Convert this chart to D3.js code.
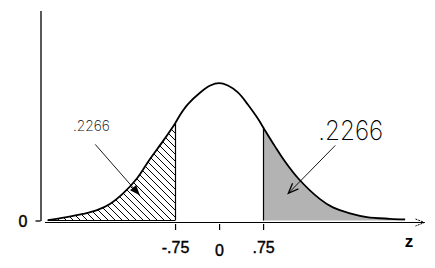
<!DOCTYPE html>
<html>
<head>
<meta charset="utf-8">
<script src="https://cdn.jsdelivr.net/npm/d3@7"></script>
<style>
  html, body { margin: 0; padding: 0; background: #fff; }
  svg { display: block; }
</style>
</head>
<body>
<svg id="chart" width="435" height="268"></svg>
<script>
// ---- data ----
const zValues = [-2.92, -2.62, -2.32, -2.08, -1.86, -1.64, -1.40, -1.18, -0.95, -0.75, -0.66, -0.53, -0.32, -0.15, 0,
                 0.15, 0.32, 0.49, 0.66, 0.75, 0.95, 1.12, 1.35, 1.72, 1.94, 2.23, 2.52, 2.91, 3.17];
const densityValues = [0.001, 0.009, 0.019, 0.030, 0.048, 0.078, 0.122, 0.178, 0.232, 0.282, 0.308, 0.338, 0.372, 0.392, 0.399,
                       0.392, 0.372, 0.337, 0.296, 0.271, 0.216, 0.172, 0.122, 0.062, 0.038, 0.021, 0.010, 0.005, 0.003];
const cutoffs = [-0.75, 0.75];
const tailAreas = [".2266", ".2266"];
const xTickValues = [-0.75, 0, 0.75];
const xTickLabels = ["-.75", "0", ".75"];
const yTickValues = [0];
const yTickLabels = ["0"];
const xAxisTitle = "z";

const points = zValues.map((z, i) => ({ z, d: densityValues[i] }));

const svg = d3.select("#chart");
const x = d3.scaleLinear().domain([-3, 3.5]).range([43, 424.5]);
const y = d3.scaleLinear().domain([0, 0.61]).range([220.5, 10.5]);

// hatch pattern
const defs = svg.append("defs");
const pat = defs.append("pattern").attr("id", "hatch")
  .attr("patternUnits", "userSpaceOnUse").attr("width", 7).attr("height", 7);
pat.append("path").attr("d", "M0,0 L7,7 M-1,6 L1,8 M6,-1 L8,1")
  .attr("stroke", "#000").attr("stroke-width", 1).attr("shape-rendering", "crispEdges");

defs.append("clipPath").attr("id", "clipLeft").append("rect")
  .attr("x", 0).attr("y", 0).attr("width", x(cutoffs[0])).attr("height", 268);
defs.append("clipPath").attr("id", "clipRight").append("rect")
  .attr("x", x(cutoffs[1])).attr("y", 0).attr("width", 435 - x(cutoffs[1])).attr("height", 268);

const curve = d3.curveCatmullRom.alpha(0.5);
const area = d3.area().x(p => x(p.z)).y0(y(0)).y1(p => y(p.d)).curve(curve);
const line = d3.line().x(p => x(p.z)).y(p => y(p.d)).curve(curve);

svg.append("path").datum(points).attr("d", area)
  .attr("fill", "url(#hatch)").attr("clip-path", "url(#clipLeft)");
svg.append("path").datum(points).attr("d", area)
  .attr("fill", "#b3b3b3").attr("clip-path", "url(#clipRight)");

// baseline of the shaded regions
svg.append("line")
  .attr("x1", x(zValues[0])).attr("x2", x(cutoffs[0]))
  .attr("y1", y(0)).attr("y2", y(0)).attr("stroke", "#000").attr("stroke-width", 1);

// cutoff verticals
cutoffs.forEach(c => {
  const p = points.find(q => q.z === c);
  svg.append("line")
    .attr("x1", Math.round(x(c)) + 0.5).attr("x2", Math.round(x(c)) + 0.5)
    .attr("y1", y(0)).attr("y2", y(p.d))
    .attr("stroke", "#000").attr("stroke-width", 1.2);
});

// the curve
svg.append("path").datum(points).attr("d", line)
  .attr("fill", "none").attr("stroke", "#000").attr("stroke-width", 1.8);

const labelFont = "'Liberation Sans', Arial, sans-serif";

// y axis
const yAxis = d3.axisLeft(y).tickValues(yTickValues).tickFormat((d, i) => yTickLabels[i])
  .tickSizeInner(5).tickSizeOuter(0).tickPadding(8);
const gy = svg.append("g").attr("transform", "translate(40.5,0)").call(yAxis);
gy.select(".domain").attr("stroke", "#000").attr("stroke-width", 1.3);
gy.selectAll(".tick line").attr("stroke", "#000").attr("stroke-width", 1.3);
gy.selectAll(".tick text").attr("font-family", labelFont)
  .attr("font-size", 16).attr("fill", "#000").attr("stroke", "#000").attr("stroke-width", 0.4)
  .attr("dy", "0.4em");

// x axis line with open arrow
const axisY = 222.5;
svg.append("line").attr("x1", x.range()[0] + 2).attr("x2", x.range()[1])
  .attr("y1", axisY).attr("y2", axisY).attr("stroke", "#000").attr("stroke-width", 1);
svg.append("path")
  .attr("d", `M${x.range()[1] - 9},${axisY - 3.5} L${x.range()[1]},${axisY} L${x.range()[1] - 9},${axisY + 3.5}`)
  .attr("fill", "none").attr("stroke", "#000").attr("stroke-width", 1).attr("stroke-dasharray", "2,1");

const xAxis = d3.axisBottom(x).tickValues(xTickValues).tickFormat((d, i) => xTickLabels[i])
  .tickSizeInner(6).tickSizeOuter(0).tickPadding(10);
const gx = svg.append("g").attr("transform", `translate(0,${axisY + 1.5})`).call(xAxis);
gx.select(".domain").remove();
gx.selectAll(".tick line").attr("stroke", "#000").attr("stroke-width", 1.2);
gx.selectAll(".tick text").attr("font-family", labelFont)
  .attr("font-size", 16).attr("fill", "#000").attr("stroke", "#000").attr("stroke-width", 0.4)
  .attr("dy", (d) => d === 0 ? "1.0em" : "0.8em");

svg.append("text").attr("x", 409).attr("y", 247).attr("text-anchor", "middle")
  .attr("font-family", labelFont).attr("font-size", 17)
  .attr("font-weight", "bold").text(xAxisTitle);

// annotations (positions in data units)
const thinFont = "Inter, 'DejaVu Sans', sans-serif";
svg.append("text").attr("x", x(-2.49)).attr("y", y(0.259))
  .attr("font-family", thinFont).attr("font-weight", 200).attr("font-size", 15)
  .attr("textLength", 37).attr("lengthAdjust", "spacingAndGlyphs").text(tailAreas[0]);
svg.append("text").attr("x", x(1.69)).attr("y", y(0.233))
  .attr("font-family", thinFont).attr("font-weight", 200).attr("font-size", 27)
  .attr("textLength", 65).attr("lengthAdjust", "spacingAndGlyphs").text(tailAreas[1]);

function arrow(z1, d1, z2, d2, filled) {
  const x1 = x(z1), y1 = y(d1), x2 = x(z2), y2 = y(d2);
  svg.append("line").attr("x1", x1).attr("y1", y1).attr("x2", x2).attr("y2", y2)
    .attr("stroke", "#000").attr("stroke-width", 0.9);
  const ang = Math.atan2(y2 - y1, x2 - x1);
  const L = 11, W = 0.38;
  const ax = x2 - L * Math.cos(ang - W), ay = y2 - L * Math.sin(ang - W);
  const bx = x2 - L * Math.cos(ang + W), by = y2 - L * Math.sin(ang + W);
  if (filled) {
    svg.append("path").attr("d", `M${ax},${ay} L${x2},${y2} L${bx},${by} Z`).attr("fill", "#000");
  } else {
    svg.append("path").attr("d", `M${ax},${ay} L${x2},${y2} L${bx},${by}`)
      .attr("fill", "none").attr("stroke", "#000").attr("stroke-width", 1.3);
  }
}
arrow(-2.11, 0.221, -1.35, 0.073, true);
arrow(1.98, 0.218, 1.18, 0.079, false);
</script>
</body>
</html>
